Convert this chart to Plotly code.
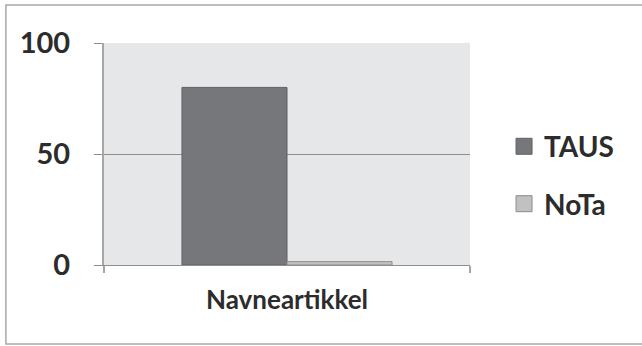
import plotly.graph_objects as go

categories = ["Navneartikkel"]
series_names = ["TAUS", "NoTa"]
taus_values = [80]
nota_values = [1.5]
y_ticks = [0, 50, 100]

series_fill = ["#76777b", "#c1c1c3"]
series_edge = ["#606165", "#8c8c8c"]

font_family = "Lato, 'Open Sans', sans-serif"
text_color = "#2c2c2c"

fig = go.Figure()
for name, vals, fill, edge in zip(series_names, [taus_values, nota_values],
                                  series_fill, series_edge):
    fig.add_trace(go.Bar(
        name=name, x=categories, y=vals, showlegend=False,
        marker=dict(color=fill, line=dict(color=edge, width=1)),
    ))
    # legend-only swatch with a larger square symbol
    fig.add_trace(go.Scatter(
        name=name, x=[None], y=[None], mode="markers", legendgroup=name,
        marker=dict(symbol="square", size=19, color=fill,
                    line=dict(color=edge, width=1)),
    ))

fig.update_layout(
    width=642, height=346,
    margin=dict(l=104, r=172, t=43, b=81),
    paper_bgcolor="white",
    plot_bgcolor="#e6e7e9",
    barmode="group",
    bargap=0.426,
    bargroupgap=0,
    font=dict(family=font_family, color=text_color),
    showlegend=True,
    legend=dict(
        x=1.093, y=0.405, xanchor="left", yanchor="middle",
        font=dict(size=28, color=text_color, weight="bold"),
        tracegroupgap=18, itemsizing="trace",
        bgcolor="rgba(0,0,0,0)",
    ),
)

fig.update_yaxes(
    range=[0, 100], tickvals=y_ticks,
    showgrid=True, gridcolor="#8e8e8e", gridwidth=1,
    showline=True, linecolor="#a6a6a6", linewidth=2,
    ticks="outside", ticklen=8, tickcolor="#8e8e8e",
    tickfont=dict(size=29, color=text_color, weight="bold"),
    ticklabelstandoff=18,
    zeroline=False,
)
fig.update_xaxes(
    showgrid=False,
    showline=True, linecolor="#8e8e8e", linewidth=1,
    ticks="outside", ticklen=7, tickcolor="#a6a6a6", tickwidth=2,
    tickson="boundaries",
    tickfont=dict(size=26, color=text_color, weight="bold"),
    ticklabelstandoff=12,
)

# Thin frame around the whole chart area
fig.add_shape(
    type="rect", xref="paper", yref="paper",
    x0=-0.268, x1=1.48, y0=-0.356, y1=1.171,
    line=dict(color="#a8a8a8", width=1.5),
    fillcolor="rgba(0,0,0,0)", layer="below",
)

fig.write_html("out.html")
